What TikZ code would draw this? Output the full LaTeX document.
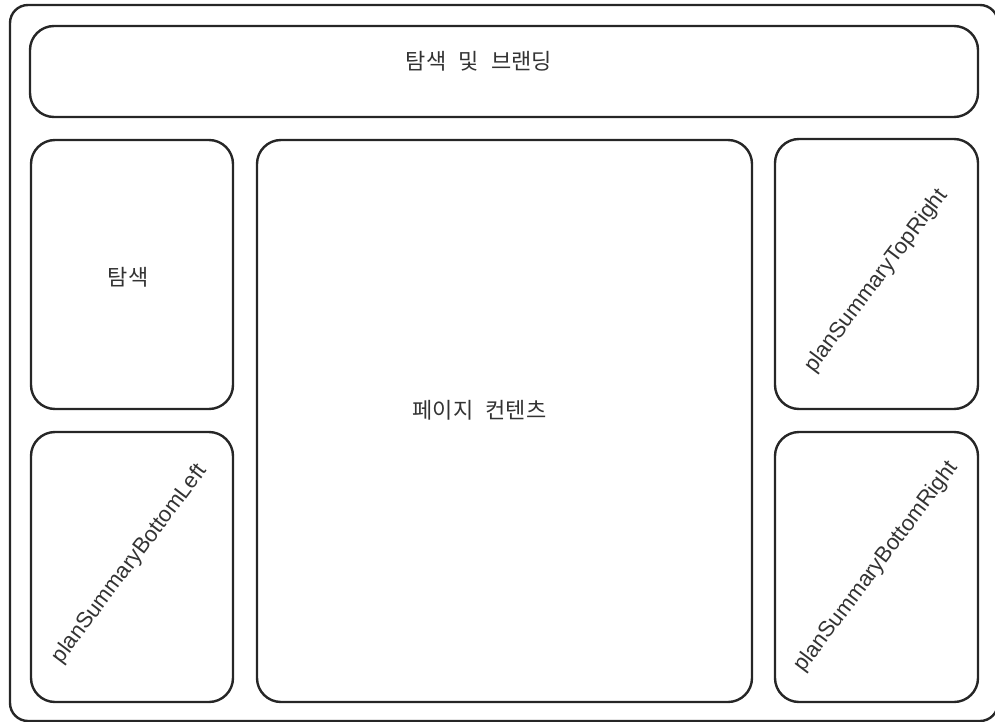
\documentclass[tikz,border=0pt]{standalone}
\usepackage{fontspec}
\setmainfont{Liberation Sans}
\newfontfamily\krfont[WordSpace=2.5]{Noto Sans CJK KR}
\usepackage{tikz}
\usetikzlibrary{positioning}
\tikzstyle{panel} = [draw=black!85, line width=2.4pt, rounded corners=24pt, inner sep=0pt]
\tikzstyle{krlabel} = [text=black!80, font=\krfont\fontsize{22}{26}\selectfont]
\tikzstyle{rotlabel} = [text=black!80, font=\fontsize{22}{26}\selectfont, rotate=53]

\begin{document}
\begin{tikzpicture}[x=1pt, y=-1pt]
            \clip (0,0) rectangle (995,722);
            \useasboundingbox (0,0) rectangle (995,722);
            \node (frame) [panel, rounded corners=18pt, minimum width=988pt, minimum height=716pt] at (504,363) {};
            \node (banner) [panel, minimum width=948pt, minimum height=91pt] at (504,71.5) {};
            \node (nav) [panel, minimum width=202pt, minimum height=269pt] at (132,274.5) {};
            \node (bottomleft) [panel, minimum width=202pt, minimum height=270pt] at (132,567) {};
            \node (content) [panel, minimum width=495pt, minimum height=562pt] at (504.5,421) {};
            \node (topright) [panel, minimum width=203pt, minimum height=270pt] at (876.5,274) {};
            \node (bottomright) [panel, minimum width=203pt, minimum height=270pt] at (876.5,567) {};

            \node (banner_text) [krlabel] at ([shift={(-25,-10)}]banner.center) {탐색 및 브랜딩};
            \node (nav_text) [krlabel] at ([shift={(-4,3)}]nav.center) {탐색};
            \node (content_text) [krlabel] at ([shift={(-25,-11)}]content.center) {페이지 컨텐츠};
            \node (bottomleft_text) [rotlabel] at ([shift={(-2,-3)}]bottomleft.center) {planSummaryBottomLeft};
            \node (topright_text) [rotlabel] at ([shift={(0,7)}]topright.center) {planSummaryTopRight};
            \node (bottomright_text) [rotlabel] at (bottomright.center) {planSummaryBottomRight};
        \end{tikzpicture}
\end{document}
